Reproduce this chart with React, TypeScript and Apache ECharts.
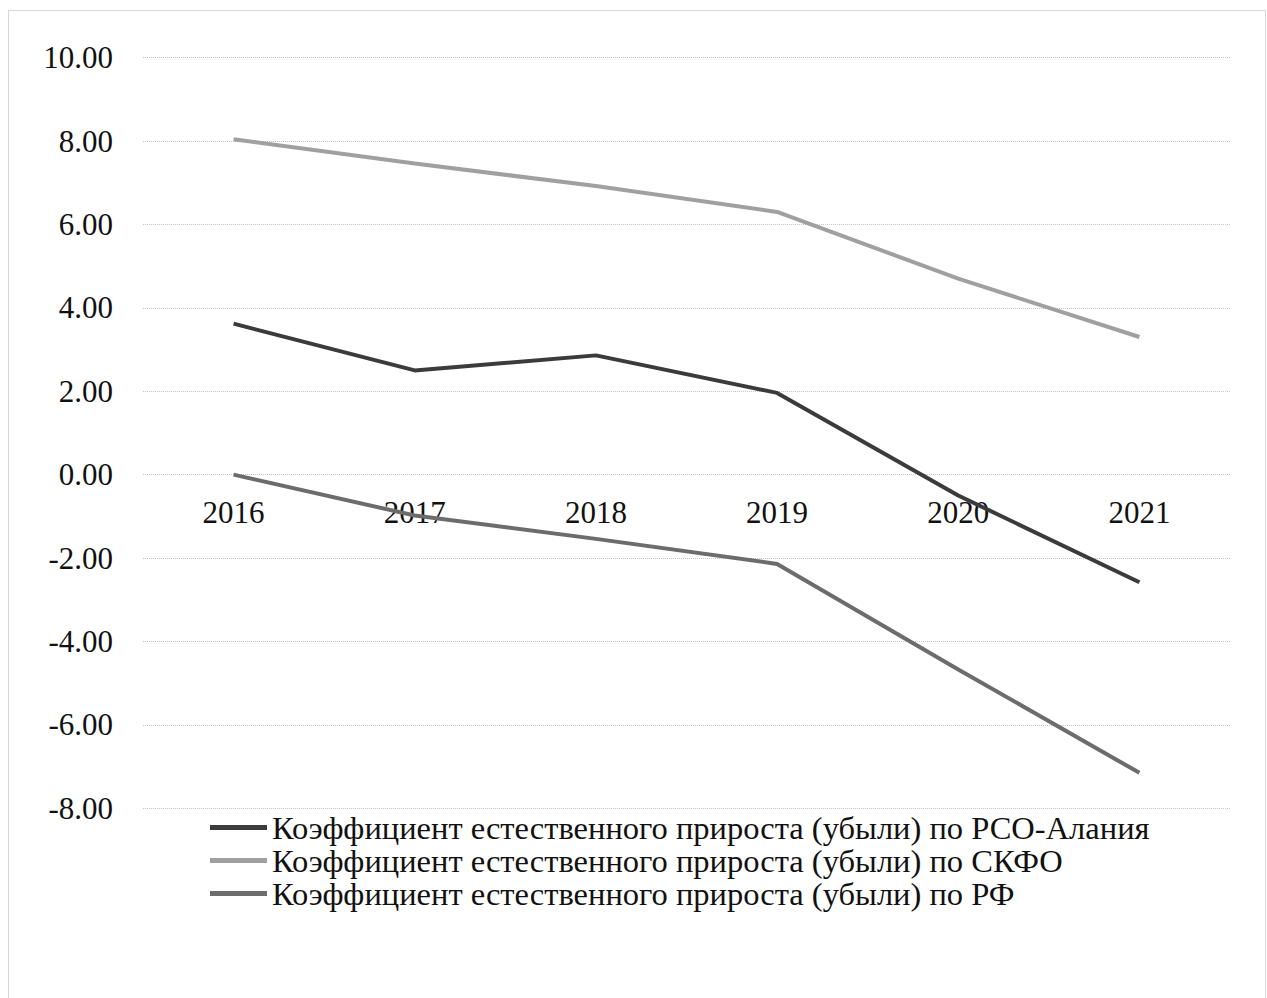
import React, { useEffect, useRef } from "react";
import * as echarts from "echarts";

const years = ["2016", "2017", "2018", "2019", "2020", "2021"];
const rsoAlania = [3.62, 2.5, 2.86, 1.96, -0.5, -2.58];
const skfo = [8.04, 7.46, 6.92, 6.3, 4.7, 3.3];
const rf = [0.0, -0.98, -1.54, -2.14, -4.67, -7.15];
const seriesNames = [
  "Коэффициент естественного прироста (убыли) по РСО-Алания",
  "Коэффициент естественного прироста (убыли) по СКФО",
  "Коэффициент естественного прироста (убыли) по РФ",
];
const FONT = "'Liberation Serif', 'Times New Roman', serif";

export default function App() {
  const ref = useRef<HTMLDivElement>(null);
  useEffect(() => {
    document.body.style.margin = "0";
    if (!ref.current) return;
    const chart = echarts.init(ref.current, undefined, { renderer: "svg" });
    const colors = ["#3b3b3b", "#a0a0a0", "#6c6c6c"];
    const data = [rsoAlania, skfo, rf];
    const top = 57.6;
    const bottomY = 808.3;
    const zeroY = top + (bottomY - top) * (10 / 18);
    chart.setOption({
      animation: false,
      backgroundColor: "#ffffff",
      textStyle: { fontFamily: FONT },
      graphic: [
        {
          type: "rect",
          shape: { x: 8.5, y: 10.5, width: 1257, height: 1000 },
          style: { fill: "none", stroke: "#b0b0b0", lineWidth: 1, lineDash: [1, 1] },
          silent: true,
        },
      ],
      grid: { left: 143, right: 37, top, bottom: 998 - bottomY, containLabel: false },
      xAxis: {
        type: "category",
        data: years,
        boundaryGap: true,
        offset: -(bottomY - zeroY),
        axisLine: { show: false, onZero: false },
        axisTick: { show: false },
        axisLabel: { color: "#111", fontSize: 31, fontFamily: FONT, margin: 22 },
        splitLine: { show: false },
      },
      yAxis: {
        type: "value",
        min: -8,
        max: 10,
        interval: 2,
        axisLine: { show: false },
        axisTick: { show: false },
        axisLabel: {
          color: "#111",
          fontSize: 31,
          fontFamily: FONT,
          margin: 30,
          formatter: (v: number) => v.toFixed(2),
        },
        splitLine: { show: true, lineStyle: { color: "#c4c4c4", type: "dotted", width: 1 } },
      },
      legend: {
        orient: "vertical",
        left: 205,
        top: 806,
        itemGap: 0,
        itemWidth: 57,
        itemHeight: 5,
        icon: "rect",
        textStyle: { color: "#111", fontSize: 32.5, fontFamily: FONT, lineHeight: 32.5 },
        data: seriesNames,
      },
      series: seriesNames.map((name, i) => ({
        name,
        type: "line",
        data: data[i],
        symbol: "none",
        lineStyle: { color: colors[i], width: 4 },
        itemStyle: { color: colors[i] },
      })),
    });
    return () => chart.dispose();
  }, []);
  return <div ref={ref} style={{ width: 1267, height: 998 }} />;
}
